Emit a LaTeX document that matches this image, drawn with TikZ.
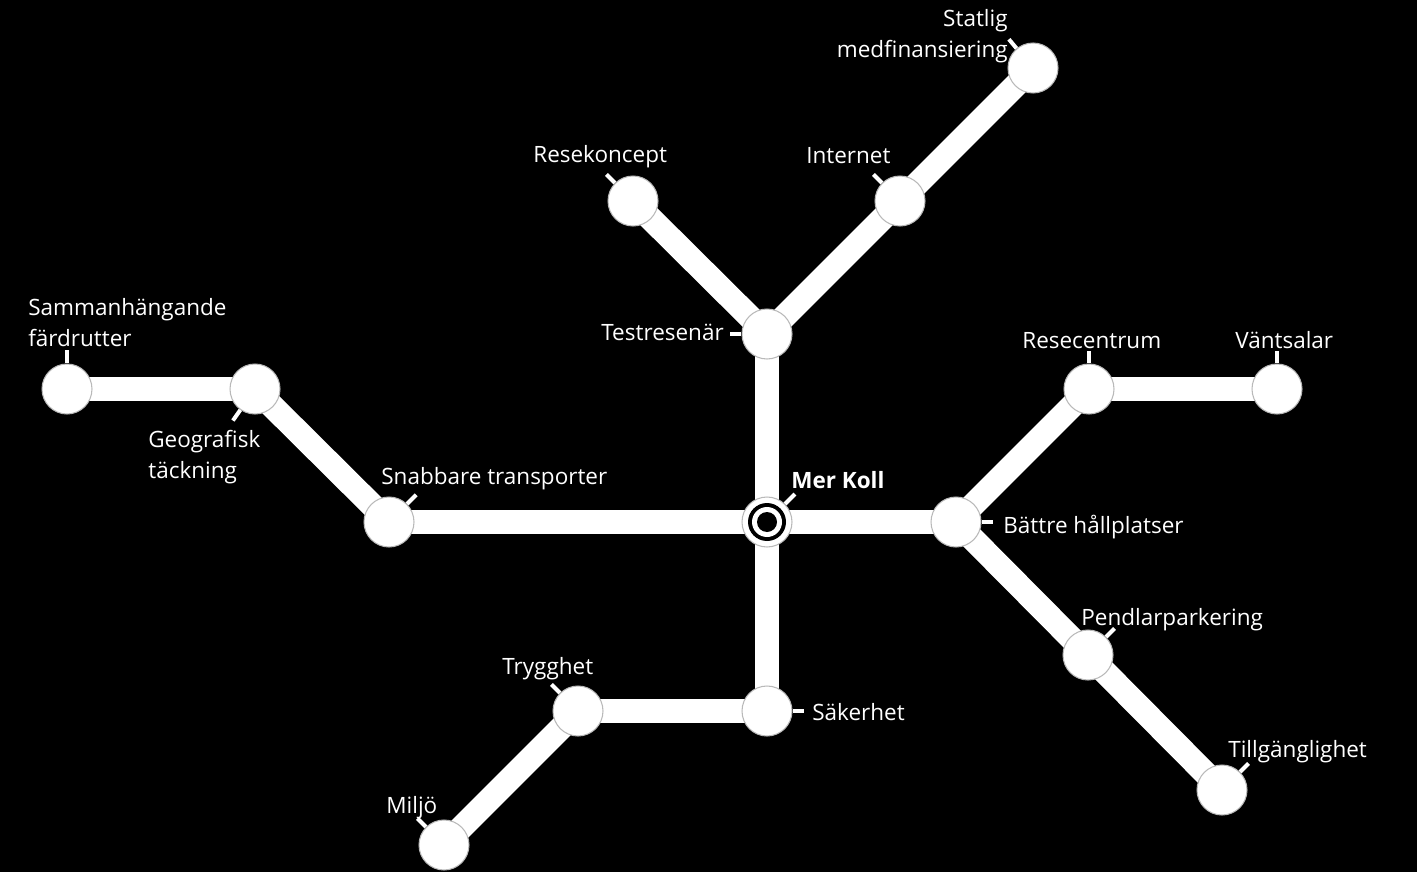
\documentclass[tikz,border=0pt]{standalone}
\usepackage{fontspec}
\setmainfont{Open Sans}
\usetikzlibrary{backgrounds}
\tikzset{
  stop/.style={circle,fill=white,draw=gray!55,line width=0.6pt,minimum size=1cm,inner sep=0pt},
  rail/.style={draw=white,line width=0.48cm,line join=round},
  tick/.style={draw=white,line width=0.08cm},
  lbl/.style={text=white,anchor=base west,inner sep=0pt,font=\fontsize{12.8}{17.6}\selectfont}
}
\begin{document}
\begin{tikzpicture}[x=0.02cm,y=-0.02cm]
    \useasboundingbox (0,0) rectangle (1417,872);
    % stations
    \begin{scope}[every node/.style={stop}]
    \node (mer) at (767,522) {};
    \node (snab) at (389,522) {};
    \node (geo) at (255,389) {};
    \node (sam) at (67,389) {};
    \node (test) at (767,334) {};
    \node (rese) at (633,201) {};
    \node (inter) at (900,201) {};
    \node (stat) at (1033,68) {};
    \node (batt) at (956,522) {};
    \node (resc) at (1089,389) {};
    \node (vant) at (1277,389) {};
    \node (pend) at (1088,655) {};
    \node (till) at (1222,790) {};
    \node (sak) at (767,711) {};
    \node (tryg) at (578,711) {};
    \node (milj) at (444,845) {};
    \end{scope}
    \fill[black] (mer) circle (0.38cm);
    \fill[white] (mer) circle (0.3cm);
    \fill[black] (mer) circle (0.2cm);
    % lines
    \begin{scope}[on background layer]
    \fill[black] (0,0) rectangle (1417,872);
    \path[every edge/.style={rail}]
          (mer.center) edge (snab.center)
          (snab.center) edge (geo.center)
          (geo.center) edge (sam.center)
          (mer.center) edge (test.center)
          (test.center) edge (rese.center)
          (test.center) edge (inter.center)
          (inter.center) edge (stat.center)
          (mer.center) edge (batt.center)
          (batt.center) edge (resc.center)
          (resc.center) edge (vant.center)
          (batt.center) edge (pend.center)
          (pend.center) edge (till.center)
          (mer.center) edge (sak.center)
          (sak.center) edge (tryg.center)
          (tryg.center) edge (milj.center);
    \end{scope}
    % ticks
    \draw[tick] (mer.45) -- ++(45:0.28cm);
    \draw[tick] (snab.45) -- ++(45:0.26cm);
    \draw[tick] (geo.235) -- ++(235:0.26cm);
    \draw[tick] (sam.90) -- ++(90:0.26cm);
    \draw[tick] (test.180) -- ++(180:0.22cm);
    \draw[tick] (rese.135) -- ++(135:0.24cm);
    \draw[tick] (inter.135) -- ++(135:0.24cm);
    \draw[tick] (stat.130) -- ++(130:0.24cm);
    \draw[tick] (batt.0) -- ++(0:0.22cm);
    \draw[tick] (resc.90) -- ++(90:0.24cm);
    \draw[tick] (vant.90) -- ++(90:0.24cm);
    \draw[tick] (pend.45) -- ++(45:0.24cm);
    \draw[tick] (till.45) -- ++(45:0.24cm);
    \draw[tick] (sak.0) -- ++(0:0.22cm);
    \draw[tick] (tryg.135) -- ++(135:0.24cm);
    \draw[tick] (milj.135) -- ++(135:0.24cm);
    % labels
    \begin{scope}[every node/.style={lbl}]
    \node[font=\fontsize{12.8}{17.6}\selectfont\bfseries] (merL) at (791,488) {Mer Koll};
    \node (snabL) at (381,484) {Snabbare transporter};
    \node[align=left] (geoL) at (148,478) {Geografisk\\täckning};
    \node[align=left] (samL) at (28,346) {Sammanhängande\\färdrutter};
    \node (testL) at (601,340) {Testresenär};
    \node (reseL) at (533,162) {Resekoncept};
    \node (interL) at (806,163) {Internet};
    \node[align=right,anchor=base east] (statL) at (1008,57) {Statlig\\medfinansiering};
    \node (battL) at (1003,533) {Bättre hållplatser};
    \node (rescL) at (1022,348) {Resecentrum};
    \node (vantL) at (1235,348) {Väntsalar};
    \node (pendL) at (1081,625) {Pendlarparkering};
    \node (tillL) at (1228,757) {Tillgänglighet};
    \node (sakL) at (812,720) {Säkerhet};
    \node (trygL) at (502,674) {Trygghet};
    \node (miljL) at (386,813) {Miljö};
    \end{scope}
\end{tikzpicture}
\end{document}
